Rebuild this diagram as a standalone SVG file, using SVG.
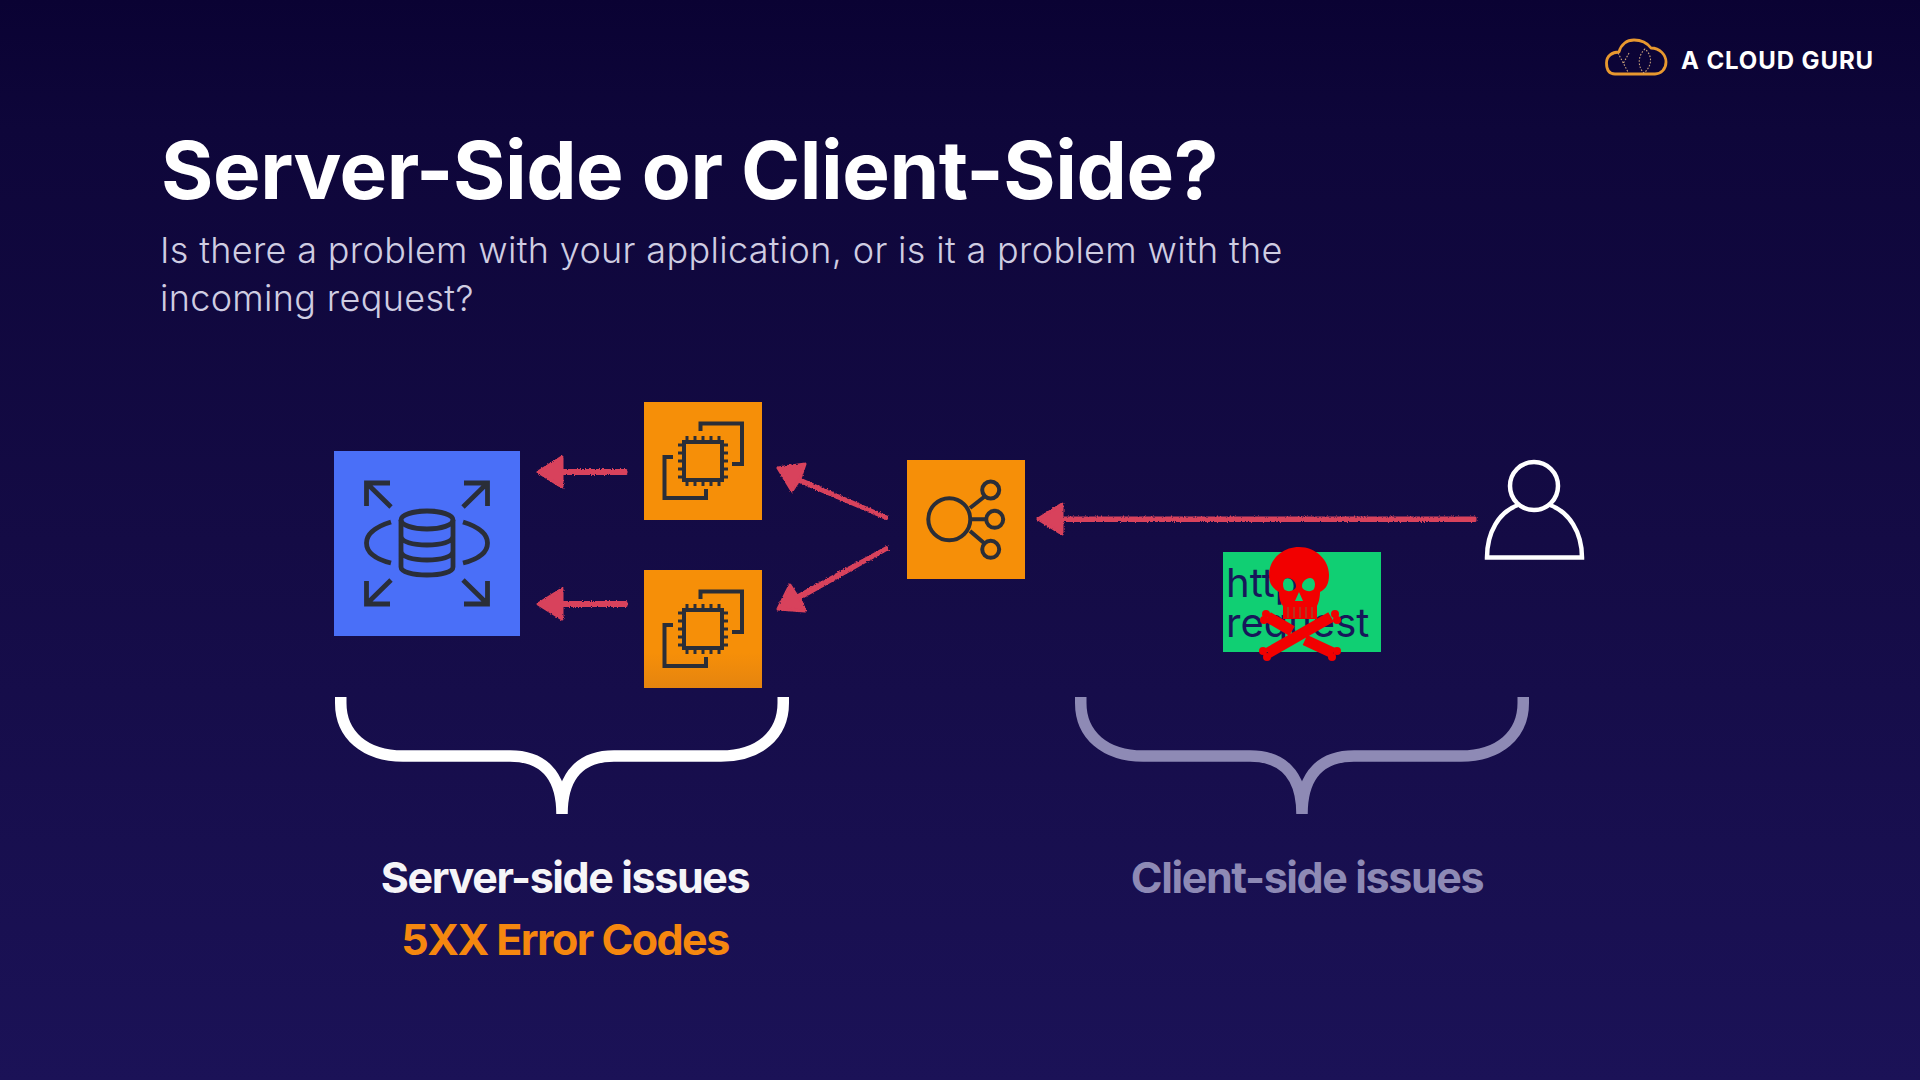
<svg xmlns="http://www.w3.org/2000/svg" xmlns:xlink="http://www.w3.org/1999/xlink" width="1920" height="1080" viewBox="0 0 1920 1080">
<style>
text{font-family:Inter,"Liberation Sans",sans-serif}
.title{font-size:80px;font-weight:700;fill:#fff;letter-spacing:-.45px}
.sub{font-size:36px;font-weight:300;fill:#cfcde2;letter-spacing:.33px}
.lab{font-size:43px;font-weight:700;letter-spacing:-1.4px;text-anchor:middle}
.ic{fill:none;stroke:#2a2e38;stroke-width:4}
.arr{fill:#d8425c;stroke:#d8425c;stroke-width:3;stroke-linejoin:round}
.brace{fill:none;stroke-width:11.5}
.bone{fill:none;stroke:#f20000;stroke-width:11}
</style>
<defs>
<linearGradient id="bg" x1="0" y1="0" x2="0" y2="1"><stop offset="0" stop-color="#0a0233"/><stop offset=".12" stop-color="#0e063a"/><stop offset=".5" stop-color="#140b45"/><stop offset="1" stop-color="#1b1257"/></linearGradient>
<linearGradient id="or2" x1="0" y1="0" x2="0" y2="1"><stop offset="0" stop-color="#f68f08"/><stop offset=".7" stop-color="#f68f08"/><stop offset="1" stop-color="#e5840f"/></linearGradient>
<filter id="rough" x="-10%" y="-60%" width="120%" height="220%"><feTurbulence type="fractalNoise" baseFrequency=".7" numOctaves="2" seed="3"/><feDisplacementMap in="SourceGraphic" scale="3" xChannelSelector="R" yChannelSelector="G"/></filter>
<g id="chipicon" class="ic">
<path d="M56.500 29V21.500H98V62H88M29 55H20.500V96H62V87"/>
<rect x="40" y="40" width="38" height="38"/>
<path style="stroke-width:3" d="M43 34V40M51 34V40M59 34V40M67 34V40M75 34V40M43 78V84M51 78V84M59 78V84M67 78V84M75 78V84M34 43H40M34 51H40M34 59H40M34 67H40M34 75H40M78 43H84M78 51H84M78 59H84M78 67H84M78 75H84"/>
</g>
<path id="curly" d="M5.750 0V6C5.750 38 30 59 68 59H175C205 59 227 75 227 117C227 75 249 59 279 59H386C424 59 448.250 38 448.250 6V0"/>
</defs>
<rect width="1920" height="1080" fill="url(#bg)"/>
<g id="logo">
<path d="M1615 74C1608 74 1606.500 68 1606.500 63C1606.500 56 1612 52 1619 52C1621 44 1627 40 1634 40C1642 40 1648 44 1651 48C1660 48 1666 55 1666 62C1666 69 1661 74 1655 74Z" fill="none" stroke="#e8982f" stroke-width="2.800" stroke-linejoin="round"/>
<path d="M1618 53L1628 72M1629 53L1623 64M1645 49C1637 56 1638 68 1644 73C1652 66 1653 56 1645 49Z" fill="none" stroke="#c9a27a" stroke-width="1.100" stroke-dasharray="1.600 1.600"/>
<text x="1681" y="68.500" font-size="24" font-weight="700" fill="#fff" letter-spacing=".9">A CLOUD GURU</text>
</g>
<g id="heading">
<text class="title" x="161" y="199">Server-Side or Client-Side?</text>
<text class="sub" x="160" y="263">Is there a problem with your application, or is it a problem with the</text>
<text class="sub" x="160" y="311">incoming request?</text>
</g>
<g id="rds">
<rect x="334" y="451" width="186" height="185" fill="#4a6ff8"/>
<path class="ic" d="M390 483H366.500V506M366.500 483L391 507M464 483H487.500V506M487.500 483L463 507M390 604H366.500V581M366.500 604L391 580M464 604H487.500V581M487.500 604L463 580M391 522C375 527 366.500 534 366.500 543C366.500 552 375 559 391 563M463 522C479 527 487.500 534 487.500 543C487.500 552 479 559 463 563M401 520V567C401 572 413 575 427 575C441 575 453 572 453 567V520M401 536C401 542 413 545 427 545C441 545 453 542 453 536M401 551C401 557 413 560 427 560C441 560 453 557 453 551" style="stroke-width:4.800"/>
<ellipse class="ic" cx="427" cy="520" rx="26" ry="9" style="stroke-width:4.800"/>
</g>
<g id="ec2-top"><rect x="644" y="402" width="118" height="118" fill="#f68f08"/><use href="#chipicon" x="644" y="402"/></g>
<g id="ec2-bottom"><rect x="644" y="570" width="118" height="118" fill="url(#or2)"/><use href="#chipicon" x="644" y="570"/></g>
<g id="elb">
<rect x="907" y="460" width="118" height="119" fill="#f68f08"/>
<g class="ic"><circle cx="949.300" cy="519.300" r="21"/><circle cx="990.700" cy="490" r="8.500"/><circle cx="994.700" cy="519.300" r="8.500"/><circle cx="990.700" cy="549.300" r="8.500"/><path d="M970 508L984 497M971 519.300H986M970 531L984 543"/></g>
</g>
<g id="connectors" class="arr" filter="url(#rough)">
<path d="M538 472L562 457V470.500H626V473.500H562V487Z"/>
<path d="M538 604L562 589V602.500H626V605.500H562V619Z"/>
<path d="M1038 519L1062 504V518H1475V520.500H1062V534Z"/>
<path d="M778 468L805 464L800 479L887 517L886.500 518.500L798.500 481L792 491Z"/>
<path d="M778 609L790 585L797 596L886.500 547.500L887.500 549L800 598.500L805 611Z"/>
</g>
<g id="user" fill="none" stroke="#fff" stroke-width="4.500">
<circle cx="1534" cy="486" r="24"/>
<path d="M1518 505C1499 512 1487 532 1487 557.500H1582C1582 532 1569 512 1550 505"/>
</g>
<g id="http-request">
<rect x="1223" y="552" width="158" height="100" fill="#10cf73"/>
<text font-size="40" font-weight="400" fill="#17175a"><tspan x="1226" y="597">http</tspan><tspan x="1226" y="637">request</tspan></text>
<path fill="#f20000" fill-rule="evenodd" d="M1299 547C1316 547 1329 560 1329 575C1329 584 1326 589 1320 592C1320 599 1318 604 1317 606V619H1283V606C1281 604 1279 599 1279 592C1272 588 1269 583 1269 575C1269 560 1282 547 1299 547ZM1288 578C1283 578 1282 585 1284 589C1287 593 1296 591 1296 586C1296 582 1292 578 1288 578ZM1310 578C1306 578 1302 582 1302 586C1302 591 1311 593 1314 589C1316 585 1315 578 1310 578ZM1299 592L1295 601H1303Z"/>
<path stroke="#10cf73" stroke-opacity=".5" stroke-width="1" d="M1288 607V618M1294 607V618M1300 607V618M1306 607V618M1312 607V618"/>
<path class="bone" d="M1268 617L1292 631M1305 640L1333 653M1331 617L1268 653"/>
<g fill="#f20000"><circle cx="1266" cy="614" r="4"/><circle cx="1264" cy="620" r="4"/><circle cx="1335" cy="614" r="4"/><circle cx="1337" cy="620" r="4"/><circle cx="1267" cy="657" r="4"/><circle cx="1263" cy="651" r="4"/><circle cx="1332" cy="657" r="4"/><circle cx="1337" cy="651" r="4"/></g>
</g>
<g id="brace-server"><use href="#curly" x="335" y="697" class="brace" stroke="#fff"/></g>
<g id="brace-client"><use href="#curly" x="1075" y="697" class="brace" stroke="#8e8ab5"/></g>
<g id="labels">
<text class="lab" x="565" y="892.500" fill="#f5f5f8">Server-side issues</text>
<text class="lab" x="565" y="954.500" fill="#f5870f" style="letter-spacing:-1.55px">5XX Error Codes</text>
<text class="lab" x="1307" y="892.500" fill="#8e8ab5">Client-side issues</text>
</g>
</svg>
